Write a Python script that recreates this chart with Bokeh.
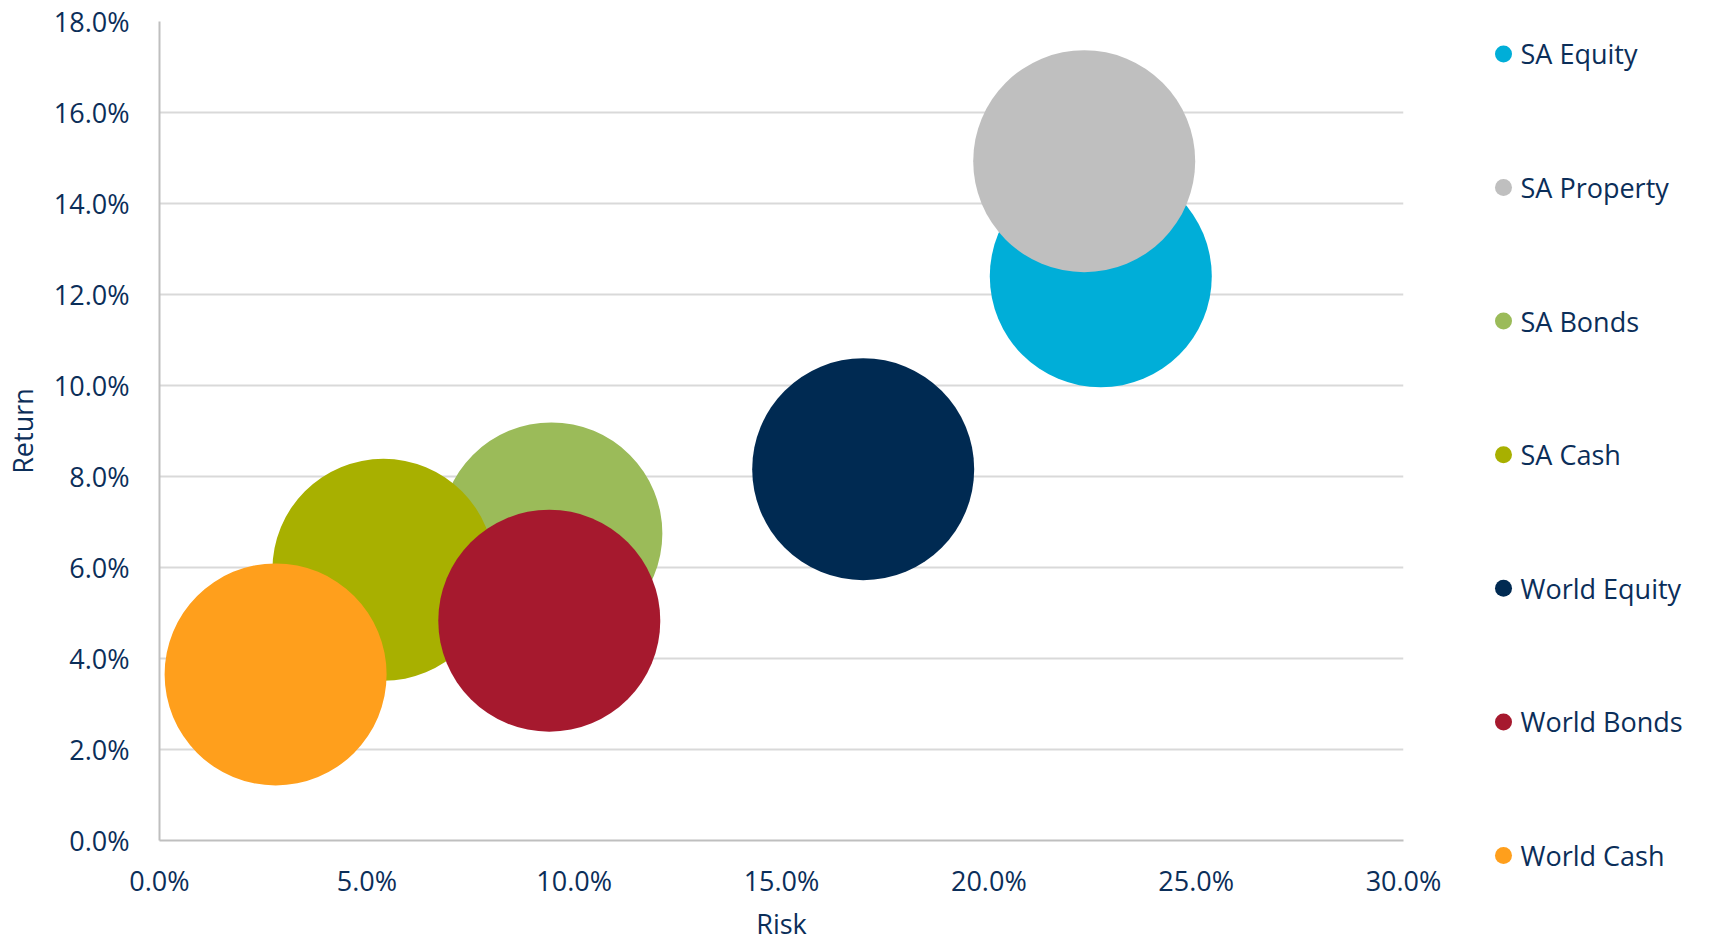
from bokeh.plotting import figure
from bokeh.layouts import row
from bokeh.models import (ColumnDataSource, NumeralTickFormatter, FixedTicker,
                          Range1d)
from bokeh.core.properties import value
from bokeh.embed import file_html
from bokeh.resources import INLINE

# ---- data ----
names = ["SA Equity", "SA Property", "SA Bonds", "SA Cash",
         "World Equity", "World Bonds", "World Cash"]
risk = [0.227, 0.223, 0.0945, 0.054, 0.1697, 0.094, 0.028]
ret = [0.124, 0.1493, 0.0675, 0.0595, 0.0816, 0.0483, 0.0365]
colors = ["#00AED8", "#BFBFBF", "#9BBB59", "#A8B000",
          "#002A52", "#A6192E", "#FF9F1C"]
x_ticks = [0.0, 0.05, 0.10, 0.15, 0.20, 0.25, 0.30]
y_ticks = [0.0, 0.02, 0.04, 0.06, 0.08, 0.10, 0.12, 0.14, 0.16, 0.18]

FONT = "Open Sans"
TXT = "#0B2E59"
TOP = 21

p = figure(width=1450, height=944, output_backend="svg", toolbar_location=None,
           x_range=Range1d(0, 0.30), y_range=Range1d(0, 0.18),
           min_border_left=157, min_border_right=47,
           min_border_top=TOP, min_border_bottom=104,
           x_axis_label="Risk", y_axis_label="Return")
p.outline_line_color = None
p.background_fill_color = "white"
p.border_fill_color = "white"

for n, xv, yv, c in zip(names, risk, ret, colors):
    src = ColumnDataSource(dict(x=[xv], y=[yv]))
    p.scatter("x", "y", source=src, size=222, fill_color=c,
              line_color=None, marker="circle")

for ax in (p.xaxis[0], p.yaxis[0]):
    ax.axis_line_color = "#BFBFBF"
    ax.axis_line_width = 2
    ax.major_tick_line_color = None
    ax.minor_tick_line_color = None
    ax.major_tick_out = 0
    ax.major_tick_in = 0
    ax.major_label_text_font = FONT
    ax.major_label_text_font_size = "27px"
    ax.major_label_text_color = TXT
    ax.axis_label_text_font = FONT
    ax.axis_label_text_font_size = "27px"
    ax.axis_label_text_color = TXT
    ax.axis_label_text_font_style = "normal"
    ax.formatter = NumeralTickFormatter(format="0.0%")

p.xaxis[0].ticker = FixedTicker(ticks=x_ticks)
p.yaxis[0].ticker = FixedTicker(ticks=y_ticks)
p.xaxis[0].major_label_standoff = 21
p.yaxis[0].major_label_standoff = 30
p.xaxis[0].axis_label_standoff = 3
p.yaxis[0].axis_label_standoff = 10

p.xgrid.grid_line_color = None
p.ygrid.grid_line_color = "#D9D9D9"
p.ygrid.grid_line_width = 2

# ---- legend panel (separate figure; its frame is aligned with the main frame top) ----
LW, LH = 260, 944 - TOP
leg = figure(frame_width=LW, frame_height=LH, output_backend="svg",
             toolbar_location=None,
             x_range=Range1d(0, LW), y_range=Range1d(LH, 0),
             min_border_left=0, min_border_right=0, min_border_top=0,
             min_border_bottom=0, x_axis_type=None, y_axis_type=None)
leg.outline_line_color = None
leg.xgrid.grid_line_color = None
leg.ygrid.grid_line_color = None
leg.background_fill_color = "white"
leg.border_fill_color = "white"

leg_y = [53.4 - TOP + i * 133.6 for i in range(len(names))]
lsrc = ColumnDataSource(dict(x=[53] * len(names), tx=[70] * len(names),
                             y=leg_y, name=names, color=colors))
leg.scatter("x", "y", source=lsrc, size=17, fill_color="color",
            line_color=None, marker="circle")
leg.text("tx", "y", text="name", source=lsrc, text_font=value(FONT),
         text_font_size="27px", text_color=TXT, text_baseline="middle",
         text_align="left")

layout = row(p, leg, spacing=0)
open("out.html", "w").write(file_html(layout, INLINE))
